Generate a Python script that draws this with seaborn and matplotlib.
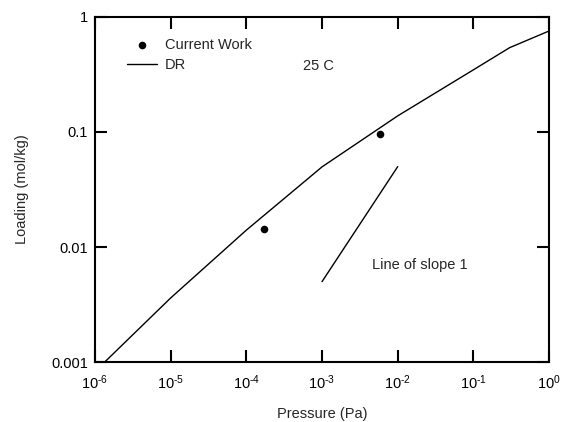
import numpy as np
import pandas as pd
import seaborn as sns
import matplotlib.pyplot as plt
from matplotlib.ticker import LogLocator, FixedLocator, FuncFormatter, NullLocator

# DR model curve
dr_pressure = [1.35e-6, 1e-5, 1e-4, 1e-3, 1e-2, 1e-1, 3e-1, 1.0]
dr_loading = [0.001, 0.0036, 0.014, 0.0497, 0.138, 0.347, 0.54, 0.755]

# current work measurements
cw_pressure = [1.72e-4, 5.82e-3]
cw_loading = [0.01435, 0.0955]

# reference line of slope 1
slope_pressure = [1e-3, 1e-2]
slope_loading = [0.005, 0.05]

y_ticks = [0.001, 0.01, 0.1, 1]
y_tick_labels = ["0.001", "0.01", "0.1", "1"]

df_dr = pd.DataFrame({"pressure": dr_pressure, "loading": dr_loading})
df_cw = pd.DataFrame({"pressure": cw_pressure, "loading": cw_loading})
df_slope = pd.DataFrame({"pressure": slope_pressure, "loading": slope_loading})

sns.set_style("ticks")
plt.rcParams["font.family"] = ["Liberation Sans", "DejaVu Sans"]
plt.rcParams["mathtext.fontset"] = "custom"
plt.rcParams["mathtext.rm"] = "Liberation Sans"
plt.rcParams["mathtext.it"] = "Liberation Sans"
plt.rcParams["font.size"] = 10.5
fs = 10.5


def pow_label(v, pos):
    e = int(round(np.log10(v)))
    return r"$\mathdefault{10^{\text{%d}}}$" % e


fig = plt.figure(figsize=(5.61, 4.22), dpi=100)
ax = fig.add_axes([0.169, 0.142, 0.81, 0.818])

sns.scatterplot(data=df_cw, x="pressure", y="loading", ax=ax, color="black",
                s=30, edgecolor="black", linewidth=0, label="Current Work", zorder=3)
sns.lineplot(data=df_dr, x="pressure", y="loading", ax=ax, color="black",
             linewidth=1.0, label="DR", sort=False)
sns.lineplot(data=df_slope, x="pressure", y="loading", ax=ax, color="black",
             linewidth=1.0, sort=False, legend=False)

ax.set_xscale("log")
ax.set_yscale("log")
ax.set_xlim(1e-6, 1)
ax.set_ylim(0.001, 1)

ax.xaxis.set_major_locator(LogLocator(base=10, numticks=10))
ax.xaxis.set_minor_locator(NullLocator())
ax.xaxis.set_major_formatter(FuncFormatter(pow_label))
ax.yaxis.set_major_locator(FixedLocator(y_ticks))
ax.yaxis.set_minor_locator(NullLocator())
ax.yaxis.set_major_formatter(FuncFormatter(lambda v, p: y_tick_labels[y_ticks.index(v)] if v in y_ticks else ""))

ax.tick_params(direction="in", length=8.5, width=1.5, top=True, right=True,
               labelsize=fs, colors="black", pad=5)
ax.tick_params(axis="x", pad=8)
for s in ax.spines.values():
    s.set_linewidth(1.5)
    s.set_color("black")

ax.set_xlabel("Pressure (Pa)", fontsize=fs, labelpad=11)
ax.set_ylabel("Loading (mol/kg)", fontsize=fs, labelpad=16)

ax.text(10 ** -3.248, 10 ** -0.423, "25 C", fontsize=fs, va="center", ha="left")
ax.text(10 ** -2.345, 10 ** -2.157, "Line of slope 1", fontsize=fs, va="center", ha="left")

ax.legend(loc="upper left", bbox_to_anchor=(0.058, 0.955), frameon=False,
          fontsize=fs, handlelength=2.05, handletextpad=0.55, labelspacing=0.37,
          borderaxespad=0)

fig.savefig("out.png", dpi=100)
